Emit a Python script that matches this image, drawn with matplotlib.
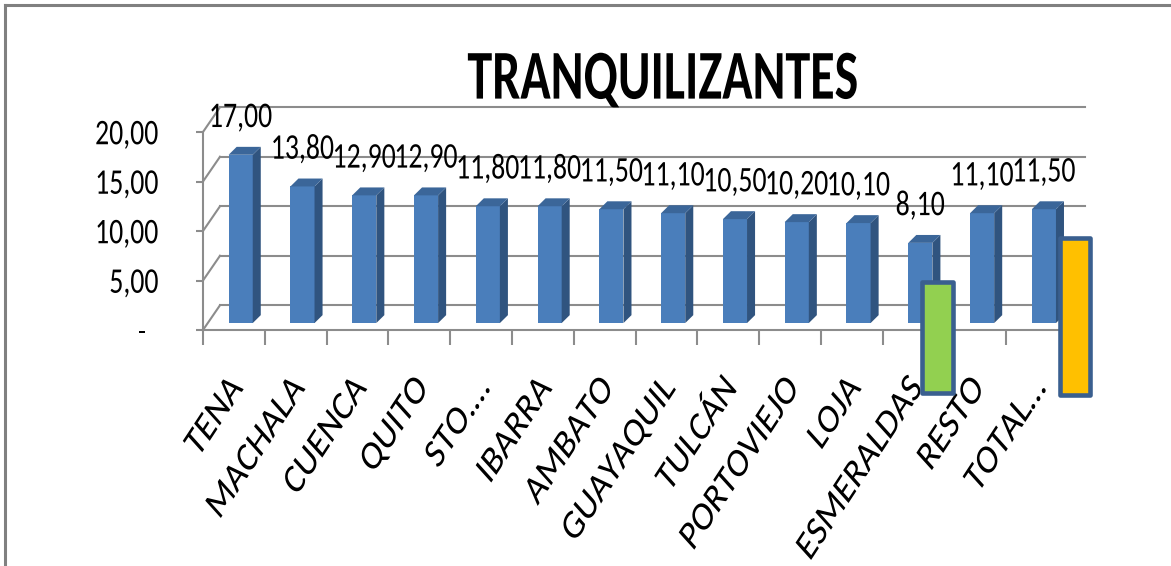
import numpy as np
import matplotlib
matplotlib.use("Agg")
import matplotlib.pyplot as plt
from matplotlib.patches import Polygon, Rectangle
from matplotlib.lines import Line2D
from matplotlib.patheffects import AbstractPathEffect
from matplotlib.transforms import Affine2D

cities = ['TENA', 'MACHALA', 'CUENCA', 'QUITO', 'STO.…', 'IBARRA', 'AMBATO',
          'GUAYAQUIL', 'TULCÁN', 'PORTOVIEJO', 'LOJA', 'ESMERALDAS', 'RESTO', 'TOTAL…']
values = [17.00, 13.80, 12.90, 12.90, 11.80, 11.80, 11.50, 11.10, 10.50, 10.20, 10.10, 8.10, 11.10, 11.50]
y_ticks = [0, 5, 10, 15, 20]
y_tick_labels = ['-  ', '5,00', '10,00', '15,00', '20,00']
title = 'TRANQUILIZANTES'

# Carlito = Calibri metrics
plt.rcParams['font.family'] = ['Carlito', 'DejaVu Sans']


class Tall(AbstractPathEffect):
  # the source picture is stretched vertically, so stretch the glyphs around a pivot
  def __init__(self, sy, px, py):
    super().__init__()
    self.stretch = Affine2D().translate(-px, -py).scale(1, sy).translate(px, py)

  def draw_path(self, renderer, gc, tpath, affine, rgbFace=None):
    renderer.draw_path(gc, tpath, affine + self.stretch, rgbFace)


W, H = 1171, 566
fig = plt.figure(figsize=(W / 100, H / 100), dpi=100)
# front plane of the 3d box (pixels): x 203..1068, y 330 (=0) .. 132 (=20)
ax = fig.add_axes([203 / W, (H - 330) / H, 865 / W, 198 / H])
ax.patch.set_visible(False)
n = len(values)
ax.set_xlim(0, n)
ax.set_ylim(0, 20)

grid_col = '#8c8c8c'
# depth of the box, depth of a bar, and where the bars sit inside the box
box_dx, box_dy = 0.275, 2.5
bar_dx, bar_dy = 0.13, 0.8
shift_x, shift_y = 0.11, 0.7

# back wall and left wall
for v in y_ticks:
  ax.plot([box_dx, n + box_dx], [v + box_dy, v + box_dy], color=grid_col, lw=1.5, clip_on=False, zorder=1)
  ax.plot([0, box_dx], [v, v + box_dy], color=grid_col, lw=1.5, clip_on=False, zorder=1)

x = np.arange(n) + 0.5 + shift_x
bars = ax.bar(x, values, width=0.39, bottom=shift_y, color='#4a7ebb', zorder=3, clip_on=False)
for r in bars:
  x0, x1 = r.get_x(), r.get_x() + r.get_width()
  y0, y1 = r.get_y(), r.get_y() + r.get_height()
  side = Polygon([(x1, y0), (x1 + bar_dx, y0 + bar_dy), (x1 + bar_dx, y1 + bar_dy), (x1, y1)],
                 closed=True, fc='#30547f', ec='none', zorder=3, clip_on=False)
  top = Polygon([(x0, y1), (x0 + bar_dx, y1 + bar_dy), (x1 + bar_dx, y1 + bar_dy), (x1, y1)],
                closed=True, fc='#3b6699', ec='none', zorder=3, clip_on=False)
  ax.add_patch(side)
  ax.add_patch(top)

value_texts = ax.bar_label(bars, labels=[f"{v:.2f}".replace('.', ',') for v in values],
                           padding=18, fontsize=20)

# axes / ticks
ax.set_xticks(np.arange(n + 1), [''] * (n + 1))
ax.set_xticks(np.arange(n) + 0.55, cities, minor=True)
ax.tick_params(axis='x', which='major', length=10.8, width=1.5, color=grid_col, direction='out')
ax.tick_params(axis='x', which='minor', length=0, pad=35, labelsize=23, labelrotation=49.5)
for lab in ax.get_xticklabels(minor=True):
  lab.set_ha('right')
  lab.set_va('center')
  lab.set_rotation_mode('anchor')
ax.set_yticks(y_ticks, y_tick_labels)
ax.tick_params(axis='y', length=5, width=1.5, color=grid_col, pad=27, labelsize=20)
for s in ['top', 'right']:
  ax.spines[s].set_visible(False)
for s in ['left', 'bottom']:
  ax.spines[s].set_color(grid_col)
  ax.spines[s].set_linewidth(1.5)

# highlight boxes drawn over the chart: category, colour, x offset, width, bottom, height
highlights = [('ESMERALDAS', '#92d050', 0.64, 0.50, -6.4, 11.2),
              ('TOTAL…', '#ffc000', 0.87, 0.48, -6.6, 15.9)]
for cat, col, off, w, b, h in highlights:
  i = cities.index(cat)
  ax.add_patch(Rectangle((i + off, b), w, h, fc=col, ec='#3a5f8f', lw=3.3,
                         joinstyle='round', zorder=5, clip_on=False))

title_text = fig.text(663 / W, 1 - 79 / H, title, fontsize=36, fontweight='bold', ha='center', va='center')

# outer chart frame (only top and left edges are inside the picture)
fig.add_artist(Line2D([5 / W, 5 / W], [0, 1 - 5 / H], color='#808080', lw=2.2, transform=fig.transFigure))
fig.add_artist(Line2D([5 / W, 1], [1 - 5 / H, 1 - 5 / H], color='#808080', lw=2.2, transform=fig.transFigure))

# stretch the text vertically like in the reference
fig.canvas.draw()
rend = fig.canvas.get_renderer()
for t in list(value_texts) + ax.get_yticklabels() + [title_text]:
  bb = t.get_window_extent(rend)
  sy = 1.4 if t is title_text else 1.3
  t.set_path_effects([Tall(sy, (bb.x0 + bb.x1) / 2, (bb.y0 + bb.y1) / 2)])
for t in ax.get_xticklabels(minor=True):
  bb = t.get_window_extent(rend)
  t.set_path_effects([Tall(1.3, bb.x1, bb.y1)])

fig.savefig('out.png', dpi=100)
